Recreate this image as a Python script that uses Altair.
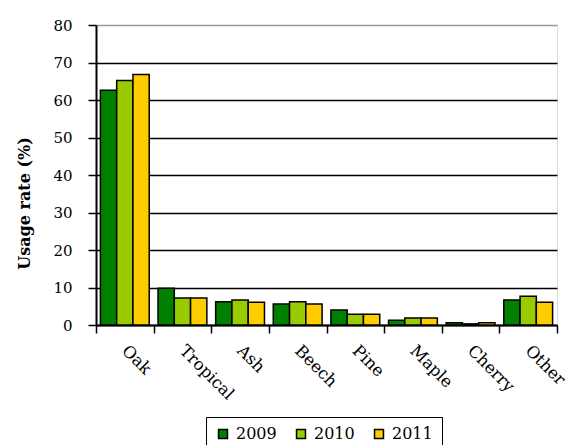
import altair as alt
import pandas as pd

# Wood species and yearly usage rates (%)
species = ["Oak", "Tropical", "Ash", "Beech", "Pine", "Maple", "Cherry", "Other"]
years = ["2009", "2010", "2011"]
usage_2009 = [62.6, 9.8, 6.2, 5.6, 4.0, 1.3, 0.6, 6.7]
usage_2010 = [65.2, 7.2, 6.7, 6.2, 2.9, 1.9, 0.3, 7.7]
usage_2011 = [66.8, 7.2, 6.1, 5.6, 2.9, 1.9, 0.6, 6.1]
colors = ["#008000", "#99CC00", "#FFCC00"]

rows = []
for yr, vals in zip(years, [usage_2009, usage_2010, usage_2011]):
    for sp, v in zip(species, vals):
        rows.append({"species": sp, "year": yr, "rate": v})
df = pd.DataFrame(rows)

FONT = "DejaVu Serif"

chart = (
    alt.Chart(df)
    .mark_bar(stroke="black", strokeWidth=1.5)
    .encode(
        x=alt.X(
            "species:N",
            sort=species,
            scale=alt.Scale(paddingInner=0, paddingOuter=0),
            axis=alt.Axis(
                title=None,
                labelAngle=45,
                labelAlign="left",
                labelBaseline="top",
                labelFont=FONT,
                labelFontSize=16.5,
                labelColor="black",
                labelPadding=9,
                labelOffset=5,
                tickBand="extent",
                tickSize=8,
                tickColor="black",
                tickWidth=1.5,
                domainColor="black",
                domainWidth=2,
                grid=False,
            ),
        ),
        xOffset=alt.XOffset(
            "year:N", sort=years, scale=alt.Scale(paddingInner=0, paddingOuter=0.27)
        ),
        y=alt.Y(
            "rate:Q",
            scale=alt.Scale(domain=[0, 80], nice=False),
            axis=alt.Axis(
                title="Usage rate (%)",
                titleFont=FONT,
                titleFontSize=16,
                titleFontWeight="bold",
                titleColor="black",
                titleX=-72,
                titleY=178,
                titleAngle=270,
                titleAlign="center",
                titleBaseline="middle",
                values=[0, 10, 20, 30, 40, 50, 60, 70, 80],
                labelFont=FONT,
                labelFontSize=15,
                labelColor="black",
                labelPadding=16,
                tickSize=8,
                tickColor="black",
                tickWidth=1.5,
                domainColor="black",
                domainWidth=2,
                grid=True,
                gridColor=alt.condition(
                    "datum.value == 80", alt.value("#999999"), alt.value("black")
                ),
                gridWidth=1.5,
            ),
        ),
        color=alt.Color(
            "year:N",
            sort=years,
            scale=alt.Scale(domain=years, range=colors),
            legend=alt.Legend(
                title=None,
                orient="none",
                direction="horizontal",
                legendX=110,
                legendY=392,
                strokeColor="black",
                fillColor="white",
                padding=9,
                symbolType="square",
                symbolSize=80,
                symbolStrokeColor="black",
                symbolStrokeWidth=1.5,
                symbolOpacity=1,
                labelFont=FONT,
                labelFontSize=16,
                labelColor="black",
                labelOffset=5,
                columnPadding=16,
            ),
        ),
    )
    .properties(
        width=461,
        height=300,
        padding={"left": 96, "top": 25, "right": 10, "bottom": 120},
        autosize=alt.AutoSizeParams(type="none"),
    )
    .configure_view(stroke="#999999", strokeWidth=1.5)
    .configure(background="white")
)

chart.save("out.html", embed_options={"renderer": "svg", "actions": False})
